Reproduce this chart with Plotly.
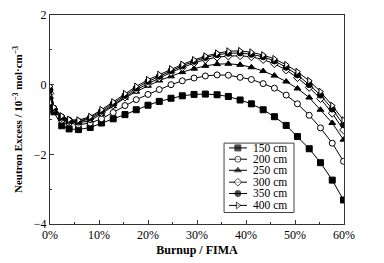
import plotly.graph_objects as go

burnup = [0, 0.8, 2.4, 3.9, 5.8, 8.2, 10.5, 12.9, 15.3, 17.6, 20.0, 22.3, 24.7, 27.0,
          29.4, 31.7, 34.1, 36.4, 38.8, 41.1, 43.5, 45.8, 48.2, 50.5, 52.9, 55.2, 57.6, 59.9]

ne_150 = [-0.60, -0.78, -1.18, -1.27, -1.29, -1.23, -1.10, -0.98, -0.86, -0.72, -0.59, -0.48,
          -0.39, -0.32, -0.28, -0.27, -0.29, -0.34, -0.44, -0.55, -0.72, -0.92, -1.17, -1.49,
          -1.84, -2.24, -2.74, -3.31]
ne_200 = [-0.50, -0.72, -1.02, -1.10, -1.15, -1.10, -0.98, -0.80, -0.60, -0.43, -0.28, -0.14,
          0.00, 0.11, 0.19, 0.25, 0.28, 0.27, 0.21, 0.15, 0.03, -0.10, -0.30, -0.55,
          -0.88, -1.24, -1.68, -2.20]
ne_250 = [-0.35, -0.75, -0.98, -1.07, -1.10, -1.03, -0.84, -0.62, -0.38, -0.20, -0.03, 0.12,
          0.24, 0.36, 0.46, 0.54, 0.59, 0.60, 0.57, 0.50, 0.39, 0.26, 0.09, -0.11,
          -0.37, -0.72, -1.10, -1.58]
ne_300 = [-0.25, -0.70, -0.95, -1.04, -1.07, -0.98, -0.80, -0.58, -0.36, -0.15, 0.03, 0.19,
          0.35, 0.49, 0.62, 0.72, 0.79, 0.82, 0.83, 0.80, 0.72, 0.60, 0.42, 0.20,
          -0.08, -0.40, -0.82, -1.30]
ne_350 = [-0.15, -0.68, -0.93, -1.02, -1.05, -0.95, -0.76, -0.54, -0.31, -0.10, 0.09, 0.24,
          0.40, 0.54, 0.67, 0.78, 0.86, 0.90, 0.91, 0.87, 0.80, 0.68, 0.50, 0.28,
          0.00, -0.30, -0.70, -1.15]
ne_400 = [-0.05, -0.65, -0.90, -1.00, -1.02, -0.92, -0.72, -0.50, -0.26, -0.05, 0.14, 0.29,
          0.45, 0.58, 0.71, 0.82, 0.90, 0.96, 0.97, 0.93, 0.85, 0.74, 0.57, 0.37,
          0.11, -0.20, -0.60, -1.02]

series_names = ["150 cm", "200 cm", "250 cm", "300 cm", "350 cm", "400 cm"]
series_values = [ne_150, ne_200, ne_250, ne_300, ne_350, ne_400]
symbols = ["square", "circle", "triangle-up", "diamond", "circle", "triangle-right"]
fills = ["black", "white", "black", "white", "black", "white"]

x_tickvals = [0, 10, 20, 30, 40, 50, 60]
x_ticktext = ["0%", "10%", "20%", "30%", "40%", "50%", "60%"]
y_tickvals = [-4, -2, 0, 2]
y_ticktext = ["\u22124", "\u22122", "0", "2"]

FONT = "Liberation Serif"
fig = go.Figure()

for name, vals, sym, fc in zip(series_names, series_values, symbols, fills):
    fig.add_trace(go.Scatter(
        x=burnup, y=vals, name=name, mode="lines+markers",
        line=dict(color="black", width=1),
        marker=dict(symbol=sym, size=6, color=fc, line=dict(color="black", width=1)),
        showlegend=False,
    ))

# custom compact legend on an overlay axis in 0..1 units
leg_x0, leg_x1 = 0.592, 0.830
leg_ytop, leg_ybot = 0.387, 0.055
entry_y = [0.364, 0.310, 0.257, 0.200, 0.146, 0.089]
fig.add_shape(type="rect", xref="paper", yref="paper", x0=leg_x0, x1=leg_x1,
              y0=leg_ybot, y1=leg_ytop, line=dict(color="#444", width=1),
              fillcolor="white", layer="below")
for name, sym, fc, ey in zip(series_names, symbols, fills, entry_y):
    fig.add_trace(go.Scatter(
        x=[0.609, 0.639, 0.670], y=[ey, ey, ey], mode="lines+markers",
        xaxis="x2", yaxis="y2", showlegend=False, hoverinfo="skip",
        line=dict(color="black", width=1),
        marker=dict(symbol=sym, size=[0, 6, 0], color=fc, line=dict(color="black", width=1)),
    ))
    fig.add_annotation(x=0.684, y=ey, xref="paper", yref="paper", text=name,
                       showarrow=False, xanchor="left", yanchor="middle",
                       font=dict(family=FONT, size=11.5, color="black"))

axis_common = dict(showline=True, linecolor="#333", linewidth=1, mirror=True,
                   ticks="inside", ticklen=4, tickcolor="#333", showgrid=False,
                   zeroline=False, tickfont=dict(family=FONT, size=12, color="black"))

fig.update_layout(
    width=384, height=263,
    margin=dict(l=50, r=40, t=8, b=38),
    paper_bgcolor="white", plot_bgcolor="rgba(0,0,0,0)",
    xaxis=dict(range=[0, 60], tickvals=x_tickvals, ticktext=x_ticktext,
               minor=dict(ticks="inside", ticklen=2, dtick=5, tickcolor="#333", showgrid=False),
               title=dict(text="<b>Burnup / FIMA</b>", standoff=4,
                          font=dict(family=FONT, size=12, color="black")),
               **axis_common),
    yaxis=dict(range=[-4, 2], tickvals=y_tickvals, ticktext=y_ticktext,
               minor=dict(ticks="inside", ticklen=2, dtick=1, tickcolor="#333", showgrid=False),
               title=dict(text="<b>Neutron Excess / 10<sup>\u22123</sup> mol\u00b7cm<sup>\u22123</sup></b>",
                          standoff=8, font=dict(family=FONT, size=11, color="black")),
               **axis_common),
    xaxis2=dict(range=[0, 1], domain=[0, 1], overlaying="x", visible=False, fixedrange=True),
    yaxis2=dict(range=[0, 1], domain=[0, 1], overlaying="y", visible=False, fixedrange=True),
    showlegend=False,
)

fig.write_html("out.html", config={"displayModeBar": False},
               post_script="document.body.style.margin='0';")
